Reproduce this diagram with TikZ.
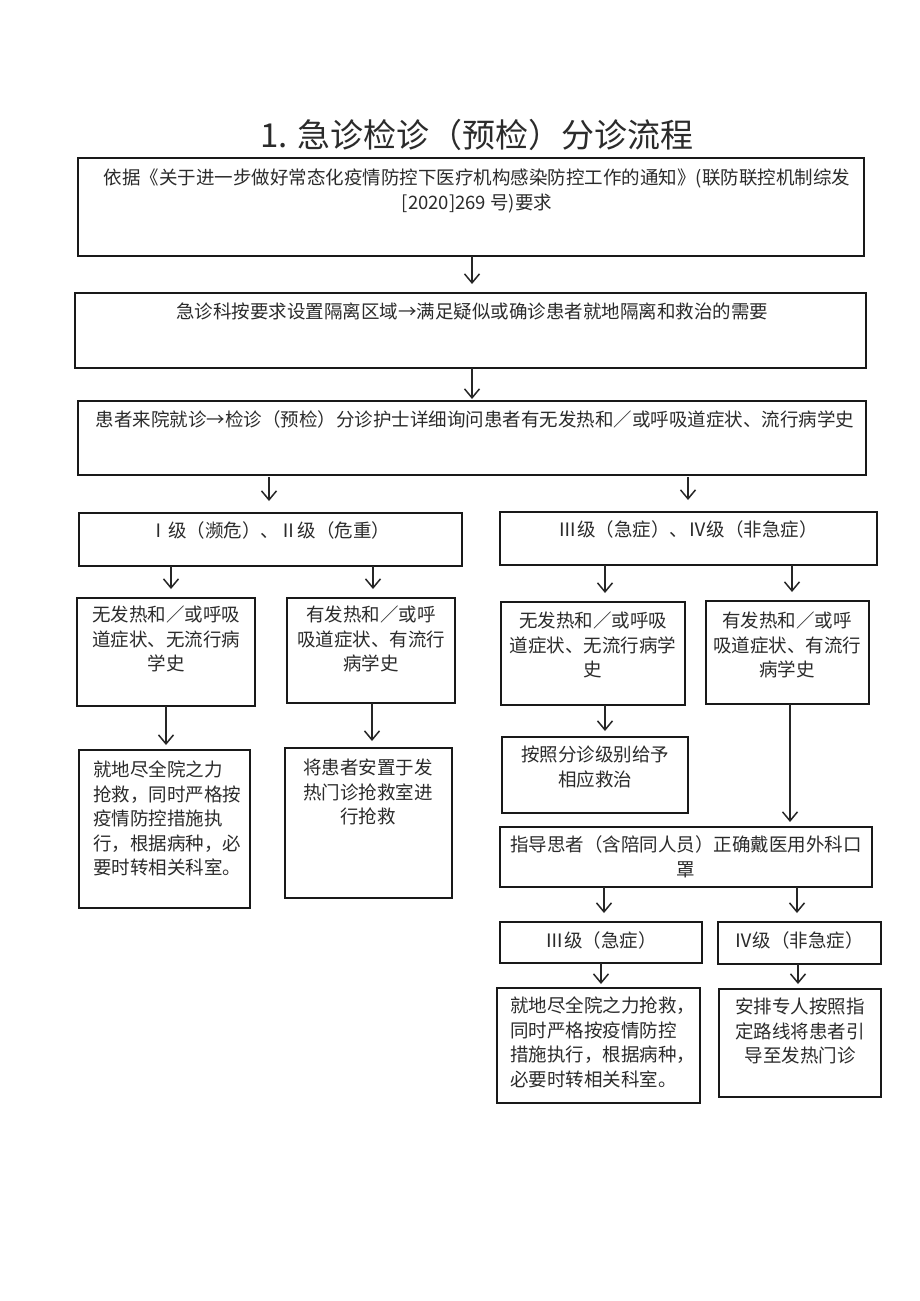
\documentclass[tikz,border=0pt]{standalone}
\usepackage{fontspec}
\setmainfont{Noto Sans CJK SC}
\newfontfamily\cjk{Noto Sans CJK SC}
\usetikzlibrary{arrows.meta}
\definecolor{tcol}{HTML}{2B2B2B}
\tikzset{
  box/.style={draw=black!90, line width=1.6pt, inner sep=0pt, outer sep=0pt, anchor=north west},
  txt/.style={inner sep=0pt, outer sep=0pt, text=tcol, font=\cjk\fontsize{18.5}{24.5}\selectfont},
  arr/.style={draw=black!85, line width=1.6pt, shorten >=9pt, -{Straight Barb[length=9pt,width=15pt,line width=1.5pt]}}
}
\newcommand\bx[5]{\node[box, minimum width=#4pt-#2pt, minimum height=#5pt-#3pt] (#1) at (#2,#3) {};}
\begin{document}
\begin{tikzpicture}[x=1pt,y=-1pt]
\useasboundingbox[fill=white] (0,0) rectangle (920,1301);
% title
\node[txt, anchor=north, font=\cjk\fontsize{33}{38}\selectfont] (title) at (477,119) {1. 急诊检诊（预检）分诊流程};
% boxes
\bx{b1}{78}{158}{864}{256}
\bx{b2}{75}{293}{866}{368}
\bx{b3}{78}{401}{866}{475}
\bx{L1}{79}{513}{462}{566}
\bx{R1}{500}{512}{877}{565}
\bx{L2a}{77}{598}{255}{706}
\bx{L2b}{287}{598}{455}{703}
\bx{L3a}{79}{750}{250}{908}
\bx{L3b}{285}{748}{452}{898}
\bx{R2a}{501}{602}{685}{705}
\bx{R2b}{706}{601}{869}{704}
\bx{R3a}{502}{737}{688}{813}
\bx{R4}{500}{827}{872}{887}
\bx{R5a}{500}{922}{702}{963}
\bx{R5b}{718}{922}{881}{964}
\bx{R6a}{497}{988}{700}{1103}
\bx{R6b}{719}{989}{881}{1097}
% texts
\node[txt, anchor=north, align=center] (t1) at (477,169) {依据《关于进一步做好常态化疫情防控下医疗机构感染防控工作的通知》(联防联控机制综发\\{}[2020]269 号)要求};
\node[txt, anchor=north] (t2) at (472,303) {急诊科按要求设置隔离区域→满足疑似或确诊患者就地隔离和救治的需要};
\node[txt, anchor=north] (t3) at (475,411) {患者来院就诊→检诊（预检）分诊护士详细询问患者有无发热和／或呼吸道症状、流行病学史};
\node[txt, anchor=north] (tL1) at (270,522) {Ⅰ级（濒危）、Ⅱ级（危重）};
\node[txt, anchor=north] (tR1) at (688,521) {Ⅲ级（急症）、Ⅳ级（非急症）};
\node[txt, anchor=north, align=center] (tL2a) at (166,606) {无发热和／或呼吸\\道症状、无流行病\\学史};
\node[txt, anchor=north, align=center] (tL2b) at (371,606) {有发热和／或呼\\吸道症状、有流行\\病学史};
\node[txt, anchor=north west, align=left] (tL3a) at (93,761) {就地尽全院之力\\抢救，同时严格按\\疫情防控措施执\\行，根据病种，必\\要时转相关科室。};
\node[txt, anchor=north, align=center] (tL3b) at (368,759) {将患者安置于发\\热门诊抢救室进\\行抢救};
\node[txt, anchor=north, align=center] (tR2a) at (593,612) {无发热和／或呼吸\\道症状、无流行病学\\史};
\node[txt, anchor=north, align=center] (tR2b) at (787,612) {有发热和／或呼\\吸道症状、有流行\\病学史};
\node[txt, anchor=north, align=center] (tR3a) at (595,746) {按照分诊级别给予\\相应救治};
\node[txt, anchor=north, align=center] (tR4) at (686,836) {指导思者（含陪同人员）正确戴医用外科口\\罩};
\node[txt, anchor=north] (tR5a) at (601,932) {Ⅲ级（急症）};
\node[txt, anchor=north] (tR5b) at (799,932) {Ⅳ级（非急症）};
\node[txt, anchor=north west, align=left] (tR6a) at (510,997) {就地尽全院之力抢救，\\同时严格按疫情防控\\措施执行，根据病种，\\必要时转相关科室。};
\node[txt, anchor=north, align=center] (tR6b) at (800,998) {安排专人按照指\\定路线将患者引\\导至发热门诊};
% arrows
\draw[arr] (b1.south -| 472,0) -- (b2.north -| 472,0);
\draw[arr, shorten >=2pt] (b2.south -| 472,0) -- (b3.north -| 472,0);
\draw[arr, shorten >=12pt, shorten <=2pt] (b3.south -| 269,0) -- (L1.north -| 269,0);
\draw[arr, shorten >=12pt, shorten <=2pt] (b3.south -| 688,0) -- (R1.north -| 688,0);
\draw[arr] (L1.south -| 171,0) -- (L2a.north -| 171,0);
\draw[arr] (L1.south -| 373,0) -- (L2b.north -| 373,0);
\draw[arr, shorten >=5pt] (L2a.south -| 166,0) -- (L3a.north -| 166,0);
\draw[arr, shorten >=7pt] (L2b.south -| 372,0) -- (L3b.north -| 372,0);
\draw[arr] (R1.south -| 605,0) -- (R2a.north -| 605,0);
\draw[arr] (R1.south -| 792,0) -- (R2b.north -| 792,0);
\draw[arr, shorten >=6pt] (R2a.south -| 605,0) -- (R3a.north -| 605,0);
\draw[arr, shorten >=5pt] (R2b.south -| 790,0) -- (R4.north -| 790,0);
\draw[arr] (R4.south -| 604,0) -- (R5a.north -| 604,0);
\draw[arr] (R4.south -| 797,0) -- (R5b.north -| 797,0);
\draw[arr, shorten >=4pt] (R5a.south -| 601,0) -- (R6a.north -| 601,0);
\draw[arr, shorten >=5pt] (R5b.south -| 798,0) -- (R6b.north -| 798,0);
\end{tikzpicture}
\end{document}
